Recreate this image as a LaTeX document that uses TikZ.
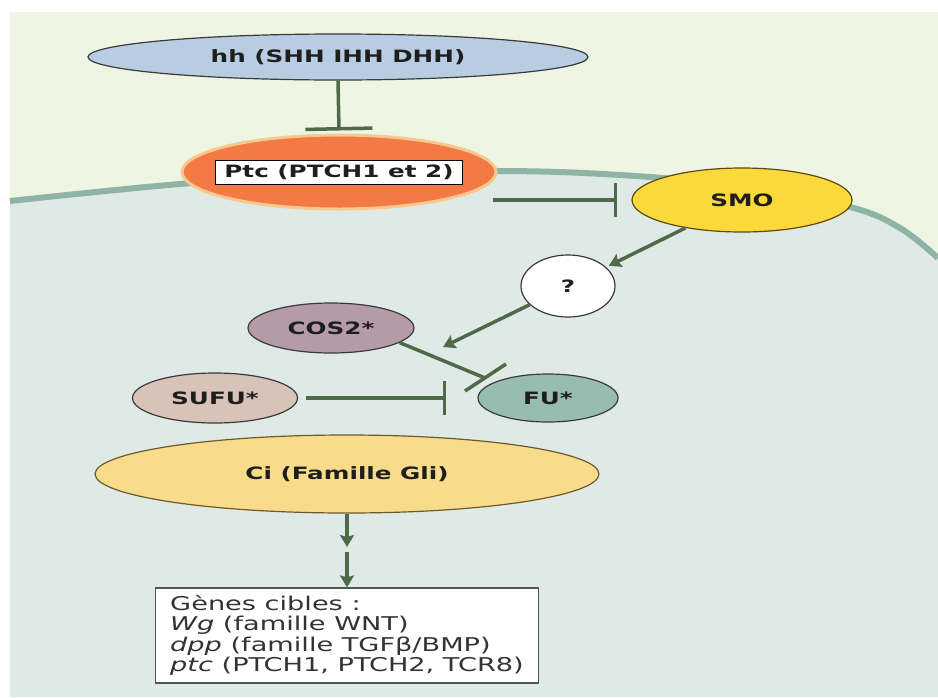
\documentclass[tikz,border=0pt]{standalone}
\usepackage{fontspec}
\usetikzlibrary{shapes.geometric,arrows.meta}
\newfontfamily\labfont[FakeStretch=1.45]{DejaVu Sans}
\newfontfamily\boxfont[FakeStretch=1.43]{DejaVu Sans}
\definecolor{bgtop}{HTML}{EEF6E3}
\definecolor{cell}{HTML}{DFE9E6}
\definecolor{memb}{HTML}{8FB4A5}
\definecolor{conn}{HTML}{4F6A49}
\definecolor{hhc}{HTML}{B8CDE2}
\definecolor{ptcc}{HTML}{F47A45}
\definecolor{ptcb}{HTML}{F9C88E}
\definecolor{smoc}{HTML}{FBD93A}
\definecolor{smob}{HTML}{5A4A10}
\definecolor{cosc}{HTML}{B59BA8}
\definecolor{sufuc}{HTML}{D8C3B9}
\definecolor{fuc}{HTML}{97BDB0}
\definecolor{cic}{HTML}{F8DC8C}
\definecolor{cib}{HTML}{6D5A2A}
\definecolor{edge}{HTML}{3A3A3A}
\definecolor{txt}{HTML}{1E1E1E}
\definecolor{txtb}{HTML}{333333}
\definecolor{boxb}{HTML}{555555}
\begin{document}
\begin{tikzpicture}[x=1pt,y=-1pt,
  lab/.style={ellipse, draw=edge, line width=1.2pt, inner sep=0pt,
    font=\labfont\bfseries\fontsize{17}{20}\selectfont, text=txt},
  act/.style={draw=conn, line width=3.5pt, -{Stealth[length=12pt,width=14pt,inset=2pt]}},
  inh/.style={draw=conn, line width=3.5pt},
  membrane/.style={draw=memb, line width=6pt}]
\useasboundingbox (0,0) rectangle (938,697);
\fill[white] (0,0) rectangle (938,697);
\fill[bgtop] (10,12) rectangle (938,697);
\fill[cell] plot[smooth,tension=0.6] coordinates {(10,201) (180,184) (340,174) (500,171) (620,175) (740,186) (850,207) (900,228) (938,258)} -- (938,697) -- (10,697) -- cycle;
\draw[membrane] plot[smooth,tension=0.6] coordinates {(10,201) (180,184) (340,174) (500,171) (620,175) (740,186) (850,207) (900,228) (938,258)};

\node[lab, fill=hhc, minimum width=500pt, minimum height=46pt] (hh) at (338,57) {hh (SHH IHH DHH)};
\node[ellipse, fill=ptcc, draw=ptcb, line width=3pt, minimum width=314pt, minimum height=74pt, inner sep=0pt] (Ptc) at (339,172) {};
\node[draw=black, fill=white, line width=1pt, font=\labfont\bfseries\fontsize{17}{20}\selectfont, text=txt, minimum width=247pt, minimum height=24pt, inner sep=2pt] (PtcL) at (339,172) {Ptc (PTCH1 et 2)};
\node[lab, fill=smoc, draw=smob, minimum width=220pt, minimum height=64pt] (SMO) at (742,200) {SMO};
\node[lab, fill=white, minimum width=94pt, minimum height=62pt] (Q) at (568,286) {?};
\node[lab, fill=cosc, minimum width=166pt, minimum height=50pt] (COS2) at (331,328) {COS2*};
\node[lab, fill=sufuc, minimum width=165pt, minimum height=50pt] (SUFU) at (215,398) {SUFU*};
\node[lab, fill=fuc, minimum width=140pt, minimum height=48pt] (FU) at (548,398) {FU*};
\node[lab, fill=cic, draw=cib, minimum width=504pt, minimum height=78pt] (Ci) at (347,474) {Ci (Famille Gli)};
\node[draw=boxb, fill=white, line width=1.2pt, minimum width=383pt, minimum height=95pt, align=left, inner sep=4pt,
  font=\boxfont\fontsize{19}{20.5}\selectfont, text=txtb] (Genes) at (347,635.5)
  {Gènes cibles :\\\textit{Wg} (famille WNT)\\\textit{dpp} (famille TGFβ/BMP)\\\textit{ptc} (PTCH1, PTCH2, TCR8)};

\draw[inh, -{Bar[width=67pt]}] (hh.south) -- ([yshift=3pt]Ptc.north);
\coordinate (ps) at (493,200);
\draw[inh, -{Bar[width=34pt]}] (ps) -- ([xshift=-14pt]SMO.west);
\draw[act, shorten >=3pt] (SMO) -- (Q);
\coordinate (qa) at (443,347);
\draw[act] (Q) -- (qa);
\coordinate (ce) at (485,378);
\draw[inh] (COS2.-12) -- (ce);
\coordinate (b1) at (465,391);
\coordinate (b2) at (506,364);
\draw[inh] (b1) -- (b2);
\draw[inh, -{Bar[width=34pt]}] ([xshift=8pt]SUFU.east) -- ([xshift=-31pt]FU.west);
\coordinate (m1) at (347,547);
\coordinate (m2) at (347,552);
\draw[act] (Ci.south) -- (m1);
\draw[act] (m2) -- (Genes.north);
\end{tikzpicture}
\end{document}
